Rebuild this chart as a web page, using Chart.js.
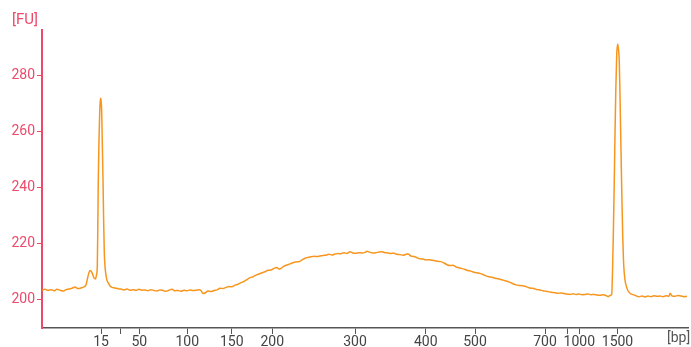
<!DOCTYPE html>
<html lang="en">
<head>
    <meta charset="UTF-8">
    <title>Electropherogram</title>
    <script src="https://cdn.jsdelivr.net/npm/chart.js"></script>
    <style>
        body {
            margin: 0;
            background: #fff;
        }

        #trace {
            display: block;
        }
    </style>
</head>
<body>
    <canvas id="trace" width="691" height="347"></canvas>

    <script>
        // Migration position (arbitrary run units) and fluorescence [FU]
        const migration = [
            0, 3, 6, 9, 12, 15, 18, 21, 24, 27, 30, 33, 36, 39, 42,
            44, 46, 48, 50, 52, 53.5, 54.5, 55.3, 55.8, 56.3, 57, 57.7, 58.2, 58.7, 59.2,
            59.7, 60.3, 61, 61.6, 62.3, 63, 63.7, 65, 66.5, 68, 70, 73, 76,
            79, 82, 85, 88, 91, 94, 97, 100, 103, 106, 109, 112, 115, 118, 121,
            124, 127, 130, 133, 136, 139, 142, 145, 148, 151, 154, 157,
            159, 161, 163,
            166, 169, 172, 175, 178, 181, 184, 187, 190, 193, 196, 199, 202, 205, 208,
            211, 214, 217, 220, 223, 226, 229, 232, 235,
            237,
            239, 242, 245, 248, 251, 254, 257, 260, 263, 266, 269, 272, 275, 278, 281,
            284, 287, 290, 293, 296, 299, 302, 305, 308, 311, 314, 317, 320, 323,
            325,
            328, 331, 334, 337, 340, 343, 346, 349, 352, 355, 358, 361, 364,
            366,
            369, 372, 375, 378, 381, 384, 387, 390, 393, 396, 399, 402, 405, 408, 411,
            414, 417, 420, 423, 426, 429, 432, 435, 438, 441, 444, 447, 450, 453, 456,
            459, 462, 465, 468, 471, 474, 477, 480, 483, 486, 489, 492, 495, 498, 501,
            504, 507, 510, 513, 516, 519, 522, 525, 528, 531, 534, 537, 540, 543, 546,
            549, 552, 555, 558, 561, 564,
            566, 568, 569.7, 570.5, 571.3, 572.2, 573, 573.8, 574.7, 575.7, 576.5,
            577.3, 578, 578.7, 579.7, 580.7, 581.5, 582.3, 583.3, 584.7, 586, 588,
            591, 594, 597, 600, 603, 606, 609, 612, 615, 618, 621, 624, 627, 628,
            630, 633, 636, 639, 642, 645
        ];

        const signal = [
            203.5, 203.8, 203.4, 203.7, 203.3, 203.8, 203.5, 203.2, 203.7, 203.9, 204.2, 204.6, 204.1, 204.3, 204.7,
            205.4, 208.5, 210.5, 209.8, 207.9, 207.5, 209, 212, 226, 243, 257, 267, 270.8, 272, 270.8,
            267, 256, 243, 229, 217, 212, 209.6, 207, 206, 205, 204.5, 204.3, 204.0,
            203.9, 203.6, 203.9, 203.5, 203.7, 203.4, 203.8, 203.5, 203.6, 203.3, 203.7, 203.4, 203.2, 203.6, 203.4,
            203.1, 203.5, 203.8, 203.3, 203.4, 203.1, 203.5, 203.3, 203.6, 203.4, 203.5, 203.7,
            203.4, 202.3, 202.5,
            203.2, 203.0, 203.4, 203.6, 204.2, 204.1, 204.5, 204.8, 204.7, 205.3, 205.6, 206.2, 206.6, 207.3, 208.0,
            208.3, 208.9, 209.3, 209.7, 210.1, 210.6, 210.7, 211.3, 211.6,
            211.0,
            211.3, 212.1, 212.5, 212.9, 213.3, 213.6, 213.7, 214.3, 214.9, 215.2, 215.4, 215.6, 215.5, 215.7, 215.9,
            216.0, 216.3, 216.1, 216.4, 216.6, 216.5, 216.9, 216.6, 217.2, 216.8, 216.7, 216.9, 216.8, 217.0,
            217.4,
            217.0, 216.8, 216.9, 217.1, 217.2, 216.9, 216.8, 216.6, 216.7, 216.3, 216.2, 216.0, 216.3,
            216.4,
            215.7, 215.5, 215.1, 214.7, 214.6, 214.3, 214.4, 214.2, 214.0, 213.8, 213.7, 213.2, 212.6, 212.3, 212.4,
            211.8, 211.5, 211.2, 210.9, 210.5, 210.3, 209.9, 209.7, 209.5, 209.1, 208.6, 208.3, 208.1, 207.8, 207.6,
            207.3, 207.0, 206.7, 206.3, 205.8, 205.4, 205.2, 205.1, 204.9, 204.5, 204.2, 204.1, 203.7, 203.6, 203.3,
            203.1, 202.9, 202.7, 202.6, 202.4, 202.5, 202.3, 202.1, 202.0, 202.2, 202.0, 202.1, 201.9, 202.0, 202.1,
            201.9, 202.0, 201.8, 201.7, 201.9, 201.6,
            201.2, 201.6, 202.0, 210, 223, 241, 259, 275, 287.5, 291.4, 289.5,
            285, 273, 259, 240, 223, 214, 209.5, 206.5, 204.5, 203.3, 202.4,
            201.9, 201.5, 201.2, 201.4, 201.1, 201.4, 201.2, 201.5, 201.3, 201.4, 201.2, 201.5, 201.3, 202.4,
            201.5, 201.3, 201.6, 201.4, 201.2, 201.3
        ];

        // Size ladder ticks along the migration axis
        const tickPos = [59, 78, 97.3, 145.3, 189.7, 230.3, 313, 383.7, 433, 503, 525.3, 537.3, 575.5];
        const tickLabels = ['15', '', '50', '100', '150', '200', '300', '400', '500', '700', '', '1000', '1500'];
        const fuTicks = [200, 220, 240, 260, 280];

        const pink = '#ec4a6b';
        const grey = '#555555';

        Chart.defaults.font.family = 'Roboto, sans-serif';
        Chart.defaults.font.size = 14;

        // Axis unit labels
        const unitLabels = {
            id: 'unitLabels',
            afterDraw(chart) {
                const ctx = chart.ctx;
                ctx.save();
                ctx.textBaseline = 'middle';
                ctx.textAlign = 'left';
                ctx.font = '15px Roboto, sans-serif';
                ctx.fillStyle = pink;
                ctx.fillText('[FU]', 12, 20);
                ctx.font = '14px Roboto, sans-serif';
                ctx.fillStyle = grey;
                ctx.fillText('[bp]', 667, 338);
                ctx.restore();
            }
        };

        new Chart(document.getElementById('trace'), {
            type: 'line',
            data: {
                datasets: [{
                    data: migration.map((m, i) => ({ x: m, y: signal[i] })),
                    borderColor: '#f7961e',
                    borderWidth: 1.5,
                    pointRadius: 0,
                    cubicInterpolationMode: 'monotone',
                    fill: false
                }]
            },
            options: {
                responsive: false,
                animation: false,
                devicePixelRatio: 1,
                layout: { padding: { top: 30, right: 3, left: 0, bottom: 0 } },
                plugins: {
                    legend: { display: false },
                    tooltip: { enabled: false }
                },
                scales: {
                    x: {
                        type: 'linear',
                        min: 0,
                        max: 646,
                        afterBuildTicks: scale => {
                            scale.ticks = tickPos.map(v => ({ value: v }));
                        },
                        afterFit: scale => { scale.height = 19; },
                        border: { color: grey, width: 1.5 },
                        grid: {
                            drawOnChartArea: false,
                            drawTicks: true,
                            tickLength: 6,
                            color: grey
                        },
                        ticks: {
                            autoSkip: false,
                            maxRotation: 0,
                            padding: 0,
                            color: '#444',
                            callback: (value, index) => tickLabels[index]
                        }
                    },
                    y: {
                        min: 190,
                        max: 296.4,
                        afterBuildTicks: scale => {
                            scale.ticks = fuTicks.map(v => ({ value: v }));
                        },
                        afterFit: scale => { scale.width = 42; },
                        border: { color: pink, width: 2 },
                        grid: {
                            drawOnChartArea: false,
                            drawTicks: true,
                            tickLength: 5,
                            color: pink
                        },
                        ticks: {
                            padding: 2,
                            color: pink
                        }
                    }
                }
            },
            plugins: [unitLabels]
        });
    </script>
</body>
</html>
